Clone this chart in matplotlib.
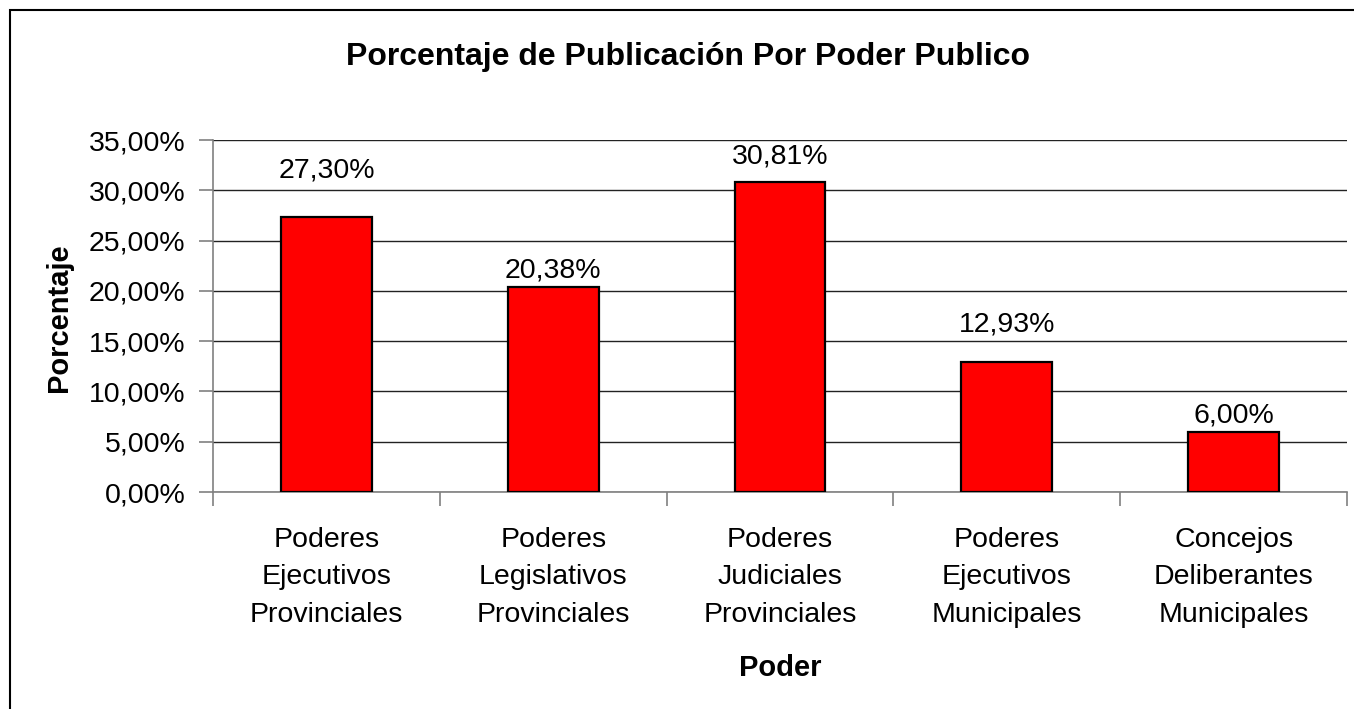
import matplotlib
matplotlib.use("Agg")
import matplotlib.pyplot as plt
from matplotlib.patches import Rectangle
import numpy as np

categories = ["Poderes\nEjecutivos\nProvinciales",
              "Poderes\nLegislativos\nProvinciales",
              "Poderes\nJudiciales\nProvinciales",
              "Poderes\nEjecutivos\nMunicipales",
              "Concejos\nDeliberantes\nMunicipales"]
values = [27.30, 20.38, 30.81, 12.93, 6.00]
value_labels = ["27,30%", "20,38%", "30,81%", "12,93%", "6,00%"]
y_ticks = [0, 5, 10, 15, 20, 25, 30, 35]
y_tick_labels = ["0,00%", "5,00%", "10,00%", "15,00%", "20,00%", "25,00%", "30,00%", "35,00%"]
# label offsets above bar tops (points), as placed in the original
label_offsets = [28.8, 7.2, 13.7, 21.6, 6.5]

plt.rcParams['font.family'] = ['Liberation Sans', 'DejaVu Sans']

W, H = 1354, 709
fig = plt.figure(figsize=(W / 100, H / 100), dpi=100)
fig.patch.set_facecolor("white")

# outer border of chart area
fig.patches.append(Rectangle((10 / W, -0.1), 1.2, 1 - 10 / H + 0.1,
                             transform=fig.transFigure, fill=False,
                             edgecolor="black", linewidth=1.5))

ax = fig.add_axes([213 / W, 1 - 492 / H, (1347 - 213) / W, (492 - 140) / H])
x = np.arange(len(categories))
ax.bar(x, values, width=0.4, color="#FF0000", edgecolor="black", linewidth=1.6, zorder=3)

ax.set_xlim(-0.5, len(categories) - 0.5)
ax.set_ylim(0, 35)
ax.set_yticks(y_ticks)
ax.set_yticklabels(y_tick_labels, fontsize=20.5)
ax.yaxis.grid(True, color="#222222", linewidth=1.0, zorder=0)
ax.set_axisbelow(True)

for s in ["top", "right"]:
    ax.spines[s].set_visible(False)
ax.spines["left"].set_color("#808080")
ax.spines["bottom"].set_color("#808080")
ax.spines["left"].set_linewidth(1.2)
ax.spines["bottom"].set_linewidth(1.2)

ax.tick_params(axis="y", direction="out", length=10, width=1.2, color="#808080", pad=10)

ax.set_xticks(x)
ax.set_xticklabels(categories, fontsize=20.5, linespacing=1.57)
ax.tick_params(axis="x", which="major", length=0, pad=25)
ax.set_xticks(np.arange(-0.5, len(categories), 1.0), minor=True)
ax.tick_params(axis="x", which="minor", direction="out", length=10, width=1.2, color="#808080")

for xi, v, lab, off in zip(x, values, value_labels, label_offsets):
    ax.annotate(lab, (xi, v), xytext=(0, off), textcoords="offset points",
                ha="center", va="baseline", fontsize=20.5)

fig.text(688 / W, 1 - 64.5 / H,
         "Porcentaje de Publicación Por Poder Publico",
         ha="center", va="baseline", fontsize=23, fontweight="bold")
fig.text((213 + 1347) / 2 / W, 1 - 676 / H, "Poder",
         ha="center", va="baseline", fontsize=21, fontweight="bold")
fig.text(67 / W, 1 - 318 / H, "Porcentaje", rotation=90, rotation_mode="anchor",
         ha="center", va="baseline", fontsize=21, fontweight="bold")

fig.savefig("out.png", dpi=100)
